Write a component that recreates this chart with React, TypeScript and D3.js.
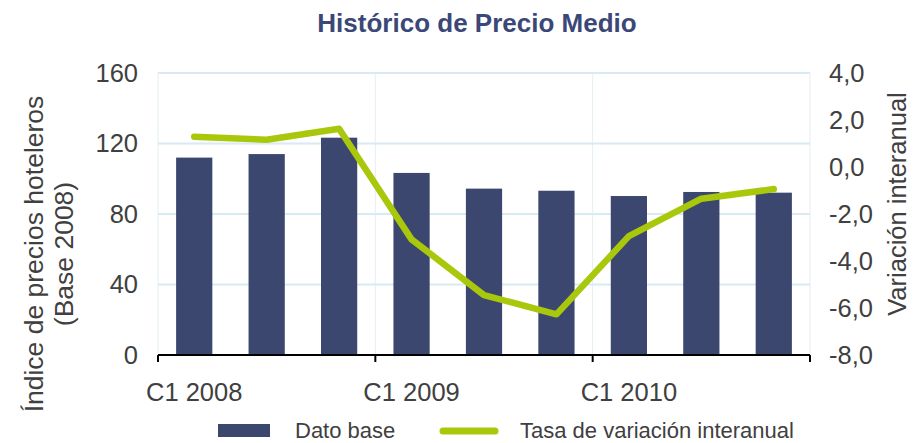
import React from "react";
import * as d3 from "d3";

const categories = ["C1 2008", "C2 2008", "C3 2008", "C1 2009", "C2 2009", "C3 2009", "C1 2010", "C2 2010", "C3 2010"];
const barValues = [112, 114, 123.3, 103.3, 94.4, 93.2, 90.2, 92.5, 92.1];
const lineValues = [1.29, 1.16, 1.63, -3.08, -5.45, -6.27, -2.94, -1.35, -0.94];
const leftTicks = [0, 40, 80, 120, 160];
const rightTicks = [-8, -6, -4, -2, 0, 2, 4];
const xLabels = ["C1 2008", "C1 2009", "C1 2010"];
const xLabelIdx = [0, 3, 6];

const W = 913, H = 443;
const M = { left: 158, right: 810, top: 73, bottom: 355 };
const FONT = "'Liberation Sans', Arial, sans-serif";
const TXT = "#404040";

export default function App() {
  const x = d3.scaleBand<string>().domain(categories).range([M.left, M.right]).paddingInner(0.5).paddingOuter(0.25);
  const xc = (c: string) => (x(c) as number) + x.bandwidth() / 2;
  const yL = d3.scaleLinear().domain([0, 160]).range([M.bottom, M.top]);
  const yR = d3.scaleLinear().domain([-8, 4]).range([M.bottom, M.top]);
  const line = d3.line<number>().x((_, i) => xc(categories[i])).y((d) => yR(d));
  const step = (M.right - M.left) / categories.length;
  const vTicks = [0, 3, 6, 9].map((i) => M.left + i * step);

  return (
    <svg width={W} height={H} style={{ position: "absolute", left: 0, top: 0, fontFamily: FONT }}>
      <rect width={W} height={H} fill="#fff" />
      <text x={477} y={32} textAnchor="middle" fontWeight="bold" fontSize={26} fill="#3b4877">Histórico de Precio Medio</text>
      {/* grid */}
      {vTicks.map((v, i) => (
        <line key={"v" + i} x1={v} x2={v} y1={M.top} y2={M.bottom} stroke="#e3eef4" strokeWidth={1} />
      ))}
      {leftTicks.filter((t) => t > 0).map((t) => (
        <line key={"h" + t} x1={M.left} x2={M.right} y1={yL(t)} y2={yL(t)} stroke="#d8eaf3" strokeWidth={2} />
      ))}
      {/* bars */}
      {barValues.map((v, i) => (
        <rect key={i} x={x(categories[i])} y={yL(v)} width={x.bandwidth()} height={M.bottom - yL(v)} fill="#3c4770" />
      ))}
      {/* line */}
      <path d={line(lineValues) || ""} fill="none" stroke="#a9c80c" strokeWidth={6.5} strokeLinejoin="round" strokeLinecap="round" />
      {/* x axis */}
      <line x1={M.left} x2={M.right} y1={M.bottom} y2={M.bottom} stroke="#000" strokeWidth={2} />
      {vTicks.map((v, i) => (
        <line key={"t" + i} x1={v} x2={v} y1={M.bottom} y2={M.bottom + 7} stroke="#000" strokeWidth={2} />
      ))}
      {xLabels.map((l, i) => (
        <text key={l} x={xc(categories[xLabelIdx[i]])} y={401} textAnchor="middle" fontSize={25.5} fill={TXT}>{l}</text>
      ))}
      {/* left ticks */}
      {leftTicks.map((t) => (
        <text key={t} x={138} y={yL(t)} dy="0.35em" textAnchor="end" fontSize={25.5} fill={TXT}>{t}</text>
      ))}
      {rightTicks.map((t) => (
        <text key={t} x={829} y={yR(t)} dy="0.35em" textAnchor="start" fontSize={25.5} fill={TXT}>{d3.format(".1f")(t).replace(".", ",").replace("−", "-")}</text>
      ))}
      {/* axis titles */}
      <g transform="translate(43,254) rotate(-90)">
        <text textAnchor="middle" fontSize={26.5} fill={TXT}>Índice de precios hoteleros</text>
        <text y={30} textAnchor="middle" fontSize={26.5} fill={TXT}>(Base 2008)</text>
      </g>
      <text transform="translate(906,204) rotate(-90)" textAnchor="middle" fontSize={25.5} fill={TXT}>Variación interanual</text>
      {/* legend */}
      <rect x={218} y={424} width={52} height={13} fill="#3c4770" />
      <text x={295} y={437.5} fontSize={22} fill={TXT}>Dato base</text>
      <line x1={443} x2={495} y1={431} y2={431} stroke="#a9c80c" strokeWidth={7} strokeLinecap="round" />
      <text x={520} y={437.5} fontSize={22} fill={TXT}>Tasa de variación interanual</text>
    </svg>
  );
}
